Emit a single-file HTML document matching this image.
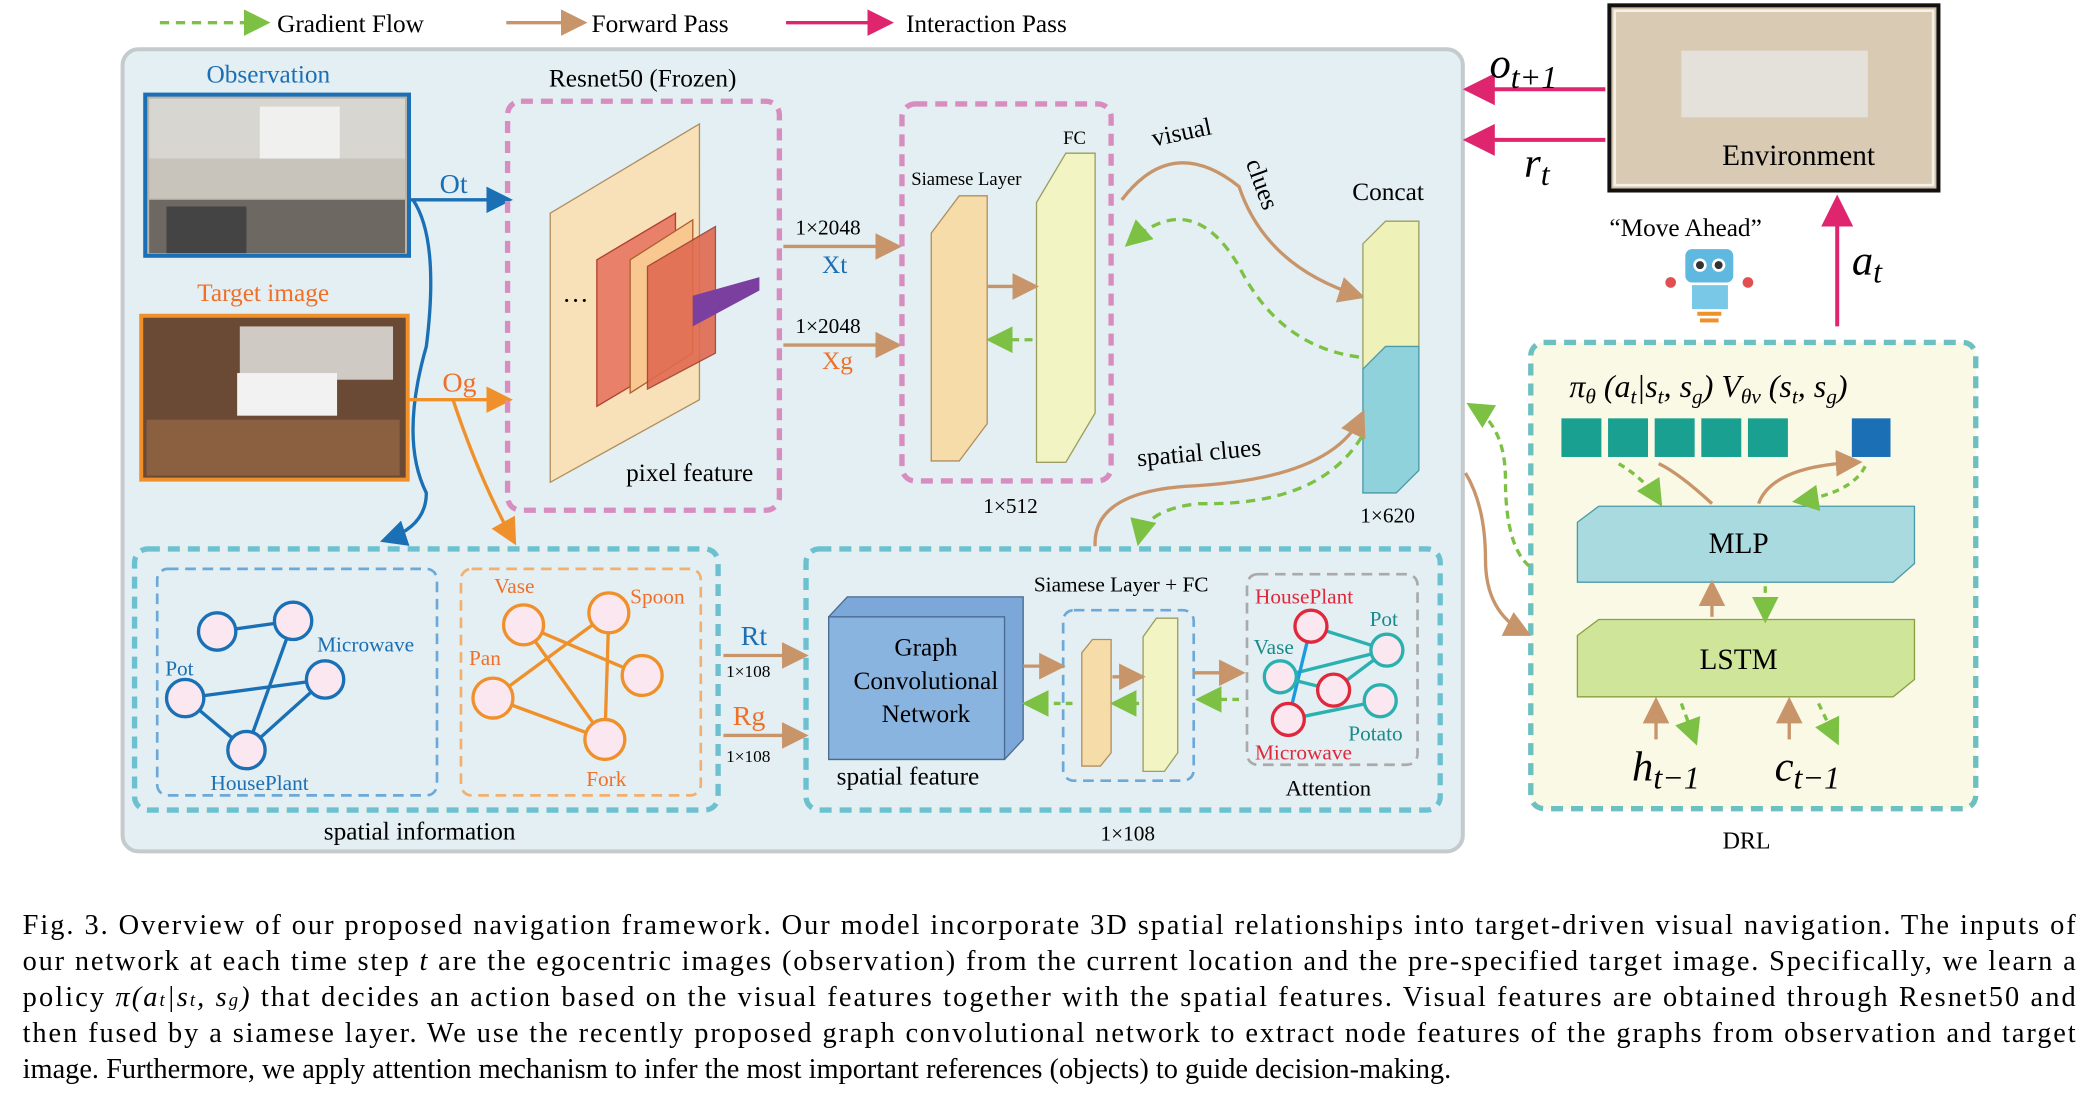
<!DOCTYPE html>
<html><head><meta charset="utf-8"><style>
html,body{margin:0;padding:0;background:#fff;width:2089px;height:1105px;overflow:hidden}
svg{display:block}
text{font-family:"Liberation Serif",serif}
</style></head><body>
<svg width="2089" height="1105" viewBox="0 0 1568 829.4">
<defs>
<marker id="ab" markerWidth="8" markerHeight="8" refX="6" refY="4" orient="auto"><path d="M0,0 L8,4 L0,8 z" fill="#c8956b"/></marker>
<marker id="ag" markerWidth="8" markerHeight="8" refX="6" refY="4" orient="auto"><path d="M0,0 L8,4 L0,8 z" fill="#7cc144"/></marker>
<marker id="ap" markerWidth="8" markerHeight="8" refX="6" refY="4" orient="auto"><path d="M0,0 L8,4 L0,8 z" fill="#e0256f"/></marker>
<marker id="abl" markerWidth="8" markerHeight="8" refX="6" refY="4" orient="auto"><path d="M0,0 L8,4 L0,8 z" fill="#1a6fb5"/></marker>
<marker id="ao" markerWidth="8" markerHeight="8" refX="6" refY="4" orient="auto"><path d="M0,0 L8,4 L0,8 z" fill="#f0902a"/></marker>
</defs>
<g>
<line x1="120" y1="17" x2="198" y2="17" stroke="#7cc144" stroke-width="2.5" stroke-dasharray="7,5" marker-end="url(#ag)"/>
<text x="208" y="24" font-size="19">Gradient Flow</text>
<line x1="380" y1="17" x2="436" y2="17" stroke="#c8956b" stroke-width="2.5" marker-end="url(#ab)"/>
<text x="444" y="24" font-size="19">Forward Pass</text>
<line x1="590" y1="17" x2="666" y2="17" stroke="#e0256f" stroke-width="2.5" marker-end="url(#ap)"/>
<text x="680" y="24" font-size="19">Interaction Pass</text>
</g>
<rect x="92" y="37" width="1006" height="602" rx="12" fill="#e3eff2" stroke="#c5cacd" stroke-width="3"/>
<text x="155" y="62" font-size="19" fill="#1a6fb5">Observation</text>
<rect x="109" y="71" width="198" height="121" fill="#b9b3a8" stroke="#1a6fb5" stroke-width="3"/>
<rect x="112" y="74" width="192" height="45" fill="#d8d6d0"/><rect x="195" y="80" width="60" height="40" fill="#f0f0ee"/><rect x="112" y="119" width="192" height="30" fill="#c8c4bc"/><rect x="112" y="150" width="192" height="40" fill="#6d6862"/><rect x="125" y="155" width="60" height="35" fill="#444"/>
<text x="148" y="226" font-size="19" fill="#f0702a">Target image</text>
<rect x="106" y="237" width="200" height="123" fill="#6a4a35" stroke="#f0902a" stroke-width="3"/>
<rect x="180" y="245" width="115" height="40" fill="#cfcac3"/><rect x="178" y="280" width="75" height="32" fill="#f2f2f2"/><rect x="110" y="315" width="190" height="42" fill="#8a6040"/>
<path d="M307,150 L380,150" stroke="#1a6fb5" stroke-width="2.5" fill="none" marker-end="url(#abl)"/>
<text x="330" y="145" font-size="21" fill="#1a6fb5">Ot</text>
<path d="M310,150 Q330,180 320,260 Q300,330 320,370 Q320,395 290,405" stroke="#1a6fb5" stroke-width="2.5" fill="none" marker-end="url(#abl)"/>
<path d="M307,300 L380,300" stroke="#f0902a" stroke-width="2.5" fill="none" marker-end="url(#ao)"/>
<text x="332" y="294" font-size="21" fill="#f0702a">Og</text>
<path d="M340,300 Q360,360 385,405" stroke="#f0902a" stroke-width="2.5" fill="none" marker-end="url(#ao)"/>
<text x="412" y="65" font-size="19">Resnet50 (Frozen)</text>
<rect x="381" y="76" width="204" height="307" rx="10" fill="none" stroke="#d88dc0" stroke-width="4" stroke-dasharray="9,6"/>
<polygon points="413,160 525,93 525,300 413,362" fill="#f8e1b8" stroke="#b09060"/>
<polygon points="448,195 507,160 507,270 448,305" fill="#e8806a" stroke="#b04030"/>
<polygon points="473,195 520,165 520,265 473,295" fill="#f8c890" stroke="#b06030"/>
<polygon points="486,200 537,170 537,265 486,292" fill="#e06a50" stroke="#a04030" opacity="0.9"/>
<polygon points="520,222 570,208 570,218 520,245" fill="#7b3fa0"/>
<text x="422" y="232" font-size="20">···</text>
<text x="470" y="361" font-size="19">pixel feature</text>
<text x="597" y="176" font-size="16">1×2048</text><text x="617" y="205" font-size="19" fill="#1a6fb5">Xt</text>
<line x1="588" y1="185" x2="672" y2="185" stroke="#c8956b" stroke-width="2.5" marker-end="url(#ab)"/>
<text x="597" y="250" font-size="16">1×2048</text><text x="617" y="277" font-size="19" fill="#f0702a">Xg</text>
<line x1="588" y1="259" x2="672" y2="259" stroke="#c8956b" stroke-width="2.5" marker-end="url(#ab)"/>
<rect x="677" y="78" width="157" height="283" rx="10" fill="none" stroke="#d88dc0" stroke-width="4" stroke-dasharray="9,6"/>
<text x="684" y="139" font-size="14">Siamese Layer</text><text x="798" y="108" font-size="14">FC</text>
<polygon points="699,175 720,147 741,147 741,318 720,346 699,346" fill="#f6dca8" stroke="#b09060"/>
<polygon points="778,152 800,115 822,115 822,310 800,347 778,347" fill="#f2f4c4" stroke="#9aa060"/>
<line x1="741" y1="215" x2="775" y2="215" stroke="#c8956b" stroke-width="2.5" marker-end="url(#ab)"/>
<line x1="775" y1="255" x2="745" y2="255" stroke="#7cc144" stroke-width="2.5" stroke-dasharray="6,4" marker-end="url(#ag)"/>
<text x="738" y="385" font-size="16">1×512</text>
<text x="866" y="110" font-size="19" transform="rotate(-12 866 110)">visual</text>
<text x="935" y="122" font-size="19" transform="rotate(70 935 122)">clues</text>
<path d="M842,150 Q880,100 930,140 Q950,200 1020,222" stroke="#c8956b" stroke-width="2.5" fill="none" marker-end="url(#ab)"/>
<path d="M1020,268 Q960,260 930,200 Q895,140 848,182" stroke="#7cc144" stroke-width="2.5" fill="none" stroke-dasharray="7,5" marker-end="url(#ag)"/>
<text x="1015" y="150" font-size="19">Concat</text>
<polygon points="1023,183 1040,166 1065,166 1065,260 1048,277 1023,277" fill="#eef2b8" stroke="#9aa060"/>
<polygon points="1023,277 1040,260 1065,260 1065,353 1048,370 1023,370" fill="#8fd2dc" stroke="#4a9aa8"/>
<text x="1021" y="392" font-size="16">1×620</text>
<text x="854" y="350" font-size="19" transform="rotate(-5 854 350)">spatial  clues</text>
<path d="M822,410 Q820,370 890,365 Q1000,360 1022,312" stroke="#c8956b" stroke-width="2.5" fill="none" marker-end="url(#ab)"/>
<path d="M1022,328 Q990,380 900,378 Q860,382 855,405" stroke="#7cc144" stroke-width="2.5" fill="none" stroke-dasharray="7,5" marker-end="url(#ag)"/>
<rect x="101" y="412" width="438" height="196" rx="10" fill="none" stroke="#6cc0d0" stroke-width="4" stroke-dasharray="9,6"/>
<rect x="118" y="427" width="210" height="170" rx="8" fill="none" stroke="#6ca8d8" stroke-width="2" stroke-dasharray="8,5"/>
<rect x="346" y="427" width="180" height="170" rx="8" fill="none" stroke="#f2b070" stroke-width="2" stroke-dasharray="8,5"/>
<g stroke="#1a6fb5" stroke-width="2.5" fill="#fbe7ef">
<line x1="163" y1="474" x2="220" y2="466"/><line x1="220" y1="466" x2="185" y2="563"/><line x1="139" y1="524" x2="244" y2="510"/><line x1="139" y1="524" x2="185" y2="563"/><line x1="185" y1="563" x2="244" y2="510"/>
<circle cx="163" cy="474" r="14"/><circle cx="220" cy="466" r="14"/><circle cx="139" cy="524" r="14"/><circle cx="244" cy="510" r="14"/><circle cx="185" cy="563" r="14"/>
</g>
<text x="124" y="507" font-size="16" fill="#1a6fb5">Pot</text><text x="238" y="489" font-size="16" fill="#1a6fb5">Microwave</text><text x="158" y="593" font-size="16" fill="#1a6fb5">HousePlant</text>
<g stroke="#f0902a" stroke-width="2.5" fill="#fbe7ef">
<line x1="393" y1="469" x2="454" y2="555"/><line x1="393" y1="469" x2="482" y2="507"/><line x1="457" y1="460" x2="370" y2="524"/><line x1="457" y1="460" x2="454" y2="555"/><line x1="370" y1="524" x2="454" y2="555"/>
<circle cx="393" cy="469" r="15"/><circle cx="457" cy="460" r="15"/><circle cx="370" cy="524" r="15"/><circle cx="482" cy="507" r="15"/><circle cx="454" cy="555" r="15"/>
</g>
<text x="371" y="445" font-size="16" fill="#f0702a">Vase</text><text x="473" y="453" font-size="16" fill="#f0702a">Spoon</text><text x="352" y="499" font-size="16" fill="#f0702a">Pan</text><text x="440" y="590" font-size="16" fill="#f0702a">Fork</text>
<text x="243" y="630" font-size="19">spatial information</text>
<text x="556" y="484" font-size="21" fill="#1a6fb5">Rt</text><text x="545" y="508" font-size="13">1×108</text>
<line x1="543" y1="492" x2="602" y2="492" stroke="#c8956b" stroke-width="2.5" marker-end="url(#ab)"/>
<text x="550" y="544" font-size="21" fill="#f0702a">Rg</text><text x="545" y="572" font-size="13">1×108</text>
<line x1="543" y1="552" x2="602" y2="552" stroke="#c8956b" stroke-width="2.5" marker-end="url(#ab)"/>
<rect x="605" y="412" width="476" height="196" rx="10" fill="none" stroke="#6cc0d0" stroke-width="4" stroke-dasharray="9,6"/>
<polygon points="622,463 636,448 768,448 768,555 754,570 622,570" fill="#7ba8d8" stroke="#4a6a90"/>
<rect x="622" y="463" width="132" height="107" fill="#8ab4e0" stroke="#4a6a90"/>
<text x="695" y="492" font-size="19" text-anchor="middle">Graph</text>
<text x="695" y="517" font-size="19" text-anchor="middle">Convolutional</text>
<text x="695" y="542" font-size="19" text-anchor="middle">Network</text>
<text x="628" y="589" font-size="19">spatial feature</text>
<text x="776" y="444" font-size="16">Siamese Layer + FC</text>
<rect x="798" y="458" width="98" height="128" rx="8" fill="none" stroke="#6ca8d8" stroke-width="2" stroke-dasharray="8,5"/>
<polygon points="812,490 820,480 834,480 834,565 826,575 812,575" fill="#f6dca8" stroke="#b09060"/>
<polygon points="858,478 868,464 884,464 884,565 874,579 858,579" fill="#f2f4c4" stroke="#9aa060"/>
<line x1="768" y1="500" x2="795" y2="500" stroke="#c8956b" stroke-width="2.5" marker-end="url(#ab)"/>
<line x1="835" y1="508" x2="855" y2="508" stroke="#c8956b" stroke-width="2.5" marker-end="url(#ab)"/>
<line x1="855" y1="528" x2="838" y2="528" stroke="#7cc144" stroke-width="2.5" stroke-dasharray="5,4" marker-end="url(#ag)"/>
<line x1="805" y1="528" x2="772" y2="528" stroke="#7cc144" stroke-width="2.5" stroke-dasharray="5,4" marker-end="url(#ag)"/>
<line x1="896" y1="505" x2="930" y2="505" stroke="#c8956b" stroke-width="2.5" marker-end="url(#ab)"/>
<line x1="930" y1="525" x2="902" y2="525" stroke="#7cc144" stroke-width="2.5" stroke-dasharray="5,4" marker-end="url(#ag)"/>
<rect x="936" y="431" width="128" height="143" rx="8" fill="none" stroke="#aaa" stroke-width="2" stroke-dasharray="8,5"/>
<g stroke-width="2.5" fill="#fbe7ef">
<line x1="984" y1="470" x2="1041" y2="488" stroke="#2bb0b0"/><line x1="961" y1="508" x2="1041" y2="488" stroke="#2bb0b0"/><line x1="967" y1="540" x2="1036" y2="526" stroke="#2bb0b0"/><line x1="984" y1="470" x2="967" y2="540" stroke="#1a9ae0"/><line x1="1001" y1="518" x2="1041" y2="488" stroke="#2bb0b0"/><line x1="961" y1="508" x2="1001" y2="518" stroke="#2bb0b0"/>
<circle cx="984" cy="470" r="12" stroke="#e0283c"/><circle cx="1041" cy="488" r="12" stroke="#2bb0b0"/><circle cx="961" cy="508" r="12" stroke="#2bb0b0"/><circle cx="1001" cy="518" r="12" stroke="#e0283c"/><circle cx="1036" cy="526" r="12" stroke="#2bb0b0"/><circle cx="967" cy="540" r="12" stroke="#e0283c"/>
</g>
<text x="942" y="453" font-size="16" fill="#e0283c">HousePlant</text><text x="1028" y="470" font-size="16" fill="#1a8a8a">Pot</text><text x="941" y="491" font-size="16" fill="#1a8a8a">Vase</text><text x="1012" y="556" font-size="16" fill="#1a8a8a">Potato</text><text x="942" y="570" font-size="16" fill="#e0283c">Microwave</text>
<text x="965" y="597" font-size="17">Attention</text>
<text x="826" y="631" font-size="16">1×108</text>
<rect x="1208" y="4" width="247" height="139" fill="#d4c2a8" stroke="#111" stroke-width="3"/>
<rect x="1212" y="8" width="239" height="131" fill="#d9cab4" stroke="#f4f0ea" stroke-width="2"/>
<rect x="1262" y="38" width="140" height="50" fill="#e4e0da"/>
<text x="1350" y="124" font-size="22" text-anchor="middle">Environment</text>
<line x1="1205" y1="67" x2="1104" y2="67" stroke="#e0256f" stroke-width="3" marker-end="url(#ap)"/>
<text x="1118" y="58" font-size="32" font-style="italic">o<tspan font-size="24" dy="8">t+1</tspan></text>
<line x1="1205" y1="105" x2="1104" y2="105" stroke="#e0256f" stroke-width="3" marker-end="url(#ap)"/>
<text x="1144" y="133" font-size="32" font-style="italic">r<tspan font-size="24" dy="6">t</tspan></text>
<line x1="1379" y1="245" x2="1379" y2="152" stroke="#e0256f" stroke-width="3" marker-end="url(#ap)"/>
<text x="1390" y="206" font-size="32" font-style="italic">a<tspan font-size="24" dy="6">t</tspan></text>
<text x="1208" y="177" font-size="19">“Move Ahead”</text>
<g><circle cx="1254" cy="212" r="4" fill="#e05050"/><circle cx="1312" cy="212" r="4" fill="#e05050"/><rect x="1265" y="187" width="36" height="25" rx="5" fill="#5fb8e0"/><circle cx="1276" cy="199" r="5" fill="#fff"/><circle cx="1290" cy="199" r="5" fill="#fff"/><circle cx="1276" cy="199" r="3" fill="#333"/><circle cx="1290" cy="199" r="3" fill="#333"/><rect x="1270" y="214" width="27" height="18" fill="#7ac8e8"/><rect x="1274" y="234" width="18" height="3" fill="#f0902a"/><rect x="1276" y="239" width="14" height="3" fill="#f0902a"/></g>
<rect x="1149" y="257" width="334" height="350" rx="10" fill="#f9f9e6" stroke="#6cc0c0" stroke-width="4" stroke-dasharray="9,6"/>
<text x="1178" y="298" font-size="24" font-style="italic">π<tspan font-size="16" dy="5">θ</tspan><tspan dy="-5"> (a</tspan><tspan font-size="16" dy="5">t</tspan><tspan dy="-5">|s</tspan><tspan font-size="16" dy="5">t</tspan><tspan dy="-5">, s</tspan><tspan font-size="16" dy="5">g</tspan><tspan dy="-5">)  V</tspan><tspan font-size="16" dy="5">θv</tspan><tspan dy="-5"> (s</tspan><tspan font-size="16" dy="5">t</tspan><tspan dy="-5">, s</tspan><tspan font-size="16" dy="5">g</tspan><tspan dy="-5">)</tspan></text>
<g fill="#1aa090"><rect x="1172" y="314" width="30" height="29"/><rect x="1207" y="314" width="30" height="29"/><rect x="1242" y="314" width="30" height="29"/><rect x="1277" y="314" width="30" height="29"/><rect x="1312" y="314" width="30" height="29"/></g>
<rect x="1390" y="314" width="29" height="29" fill="#1a6fb5"/>
<polygon points="1184,392 1200,380 1437,380 1437,423 1421,437 1184,437" fill="#a8dadf" stroke="#4a9aa8"/>
<text x="1305" y="415" font-size="22" text-anchor="middle">MLP</text>
<polygon points="1184,477 1200,465 1437,465 1437,510 1421,523 1184,523" fill="#cfe59a" stroke="#8aa040"/>
<text x="1305" y="502" font-size="22" text-anchor="middle">LSTM</text>
<path d="M1320,378 Q1330,350 1393,347" stroke="#c8956b" stroke-width="2.5" fill="none" marker-end="url(#ab)"/>
<path d="M1285,378 Q1260,355 1245,348" stroke="#c8956b" stroke-width="2.5" fill="none"/>
<path d="M1215,348 Q1235,360 1245,376" stroke="#7cc144" stroke-width="2.5" fill="none" stroke-dasharray="5,4" marker-end="url(#ag)"/>
<path d="M1400,350 Q1390,370 1350,376" stroke="#7cc144" stroke-width="2.5" fill="none" stroke-dasharray="5,4" marker-end="url(#ag)"/>
<line x1="1285" y1="463" x2="1285" y2="440" stroke="#c8956b" stroke-width="2.5" marker-end="url(#ab)"/>
<line x1="1325" y1="440" x2="1325" y2="463" stroke="#7cc144" stroke-width="2.5" stroke-dasharray="5,4" marker-end="url(#ag)"/>
<line x1="1243" y1="555" x2="1243" y2="528" stroke="#c8956b" stroke-width="2.5" marker-end="url(#ab)"/>
<line x1="1262" y1="528" x2="1272" y2="555" stroke="#7cc144" stroke-width="2.5" stroke-dasharray="5,4" marker-end="url(#ag)"/>
<line x1="1343" y1="555" x2="1343" y2="528" stroke="#c8956b" stroke-width="2.5" marker-end="url(#ab)"/>
<line x1="1365" y1="528" x2="1378" y2="555" stroke="#7cc144" stroke-width="2.5" stroke-dasharray="5,4" marker-end="url(#ag)"/>
<text x="1225" y="586" font-size="32" font-style="italic">h<tspan font-size="24" dy="6">t−1</tspan></text>
<text x="1332" y="586" font-size="32" font-style="italic">c<tspan font-size="24" dy="6">t−1</tspan></text>
<text x="1293" y="637" font-size="18">DRL</text>
<path d="M1100,355 Q1115,380 1115,420 Q1115,460 1145,475" stroke="#c8956b" stroke-width="2.5" fill="none" marker-end="url(#ab)"/>
<path d="M1148,425 Q1130,410 1130,360 Q1130,320 1105,305" stroke="#7cc144" stroke-width="2.5" fill="none" stroke-dasharray="6,4" marker-end="url(#ag)"/>
<g font-size="21.3">
<text x="17" y="701" textLength="1541" lengthAdjust="spacing">Fig. 3.  Overview of our proposed navigation framework. Our model incorporate 3D spatial relationships into target-driven visual navigation. The inputs of</text>
<text x="17" y="728" textLength="1541" lengthAdjust="spacing">our network at each time step <tspan font-style="italic">t</tspan> are the egocentric images (observation) from the current location and the pre-specified target image. Specifically, we learn a</text>
<text x="17" y="755" textLength="1541" lengthAdjust="spacing">policy <tspan font-style="italic">π(a<tspan font-size="14">t</tspan>|s<tspan font-size="14">t</tspan>, s<tspan font-size="14">g</tspan>)</tspan> that decides an action based on the visual features together with the spatial features. Visual features are obtained through Resnet50 and</text>
<text x="17" y="782" textLength="1541" lengthAdjust="spacing">then fused by a siamese layer. We use the recently proposed graph convolutional network to extract node features of the graphs from observation and target</text>
<text x="17" y="809">image. Furthermore, we apply attention mechanism to infer the most important references (objects) to guide decision-making.</text>
</g>
</svg>
</body></html>
